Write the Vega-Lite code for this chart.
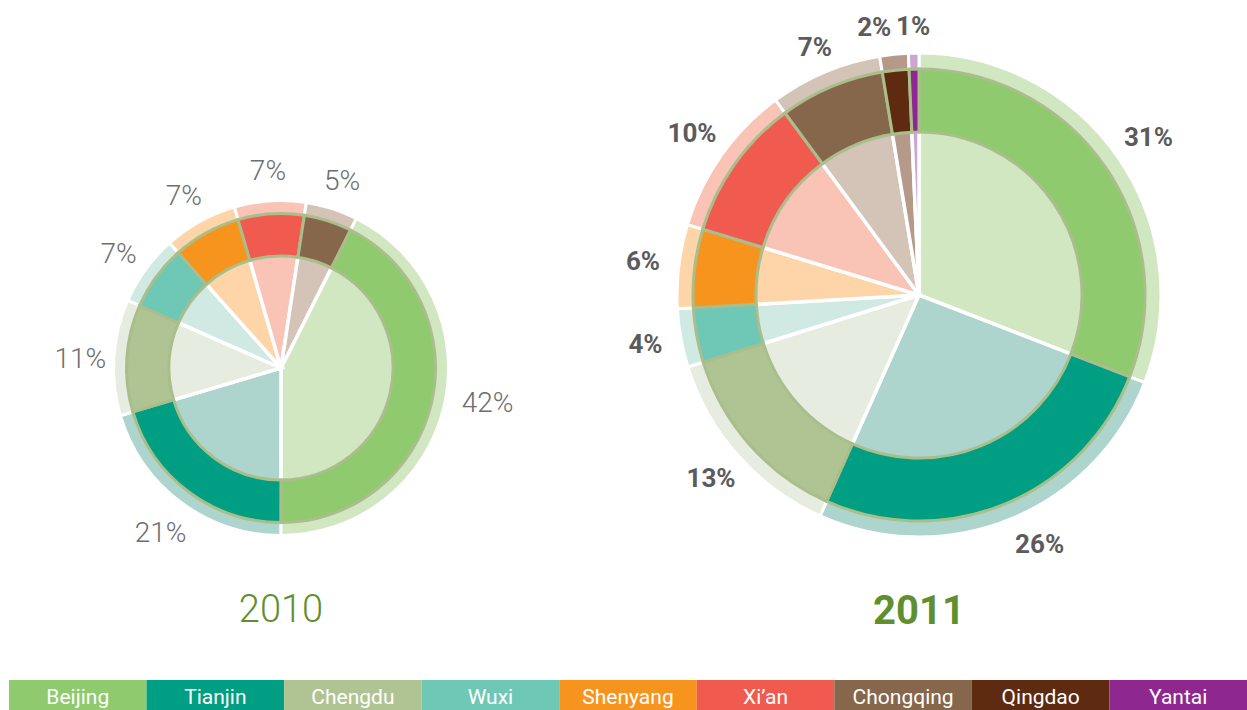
{
  "$schema": "https://vega.github.io/schema/vega-lite/v6.json",
  "padding": 0,
  "background": "white",
  "config": {"view": {"stroke": null}, "concat": {"spacing": 0}},
  "datasets": {
    "y2010": [
      {"i": 1, "city": "Beijing", "share": 42.6, "label": "42%"},
      {"i": 2, "city": "Tianjin", "share": 20.4, "label": "21%"},
      {"i": 3, "city": "Chengdu", "share": 11.2, "label": "11%"},
      {"i": 4, "city": "Wuxi", "share": 6.8, "label": "7%"},
      {"i": 5, "city": "Shenyang", "share": 7.1, "label": "7%"},
      {"i": 6, "city": "Xi’an", "share": 6.9, "label": "7%"},
      {"i": 7, "city": "Chongqing", "share": 5.0, "label": "5%"}
    ],
    "y2011": [
      {"i": 1, "city": "Beijing", "share": 30.9, "label": "31%"},
      {"i": 2, "city": "Tianjin", "share": 25.8, "label": "26%"},
      {"i": 3, "city": "Chengdu", "share": 13.5, "label": "13%"},
      {"i": 4, "city": "Wuxi", "share": 3.9, "label": "4%"},
      {"i": 5, "city": "Shenyang", "share": 5.6, "label": "6%"},
      {"i": 6, "city": "Xi’an", "share": 10.2, "label": "10%"},
      {"i": 7, "city": "Chongqing", "share": 7.5, "label": "7%"},
      {"i": 8, "city": "Qingdao", "share": 1.9, "label": "2%"},
      {"i": 9, "city": "Yantai", "share": 0.7, "label": "1%"}
    ]
  },
  "spacing": 48,
  "vconcat": [
    {
      "spacing": 29,
      "hconcat": [
        {
          "spacing": 0,
          "vconcat": [
            {"width": 562, "height": 146, "data": {"values": []}, "mark": {"type": "text"}, "encoding": {}},
            {
              "width": 562,
              "height": 444,
              "data": {"name": "y2010"},
              "title": {"text": "2010", "orient": "bottom", "offset": 2, "fontSize": 38, "font": "Roboto", "fontWeight": 300, "color": "#5f8f2e", "anchor": "middle"},
              "encoding": {
                "theta": {"field": "share", "type": "quantitative", "stack": true, "scale": {"domain": [0, 100], "range": [0.466, 6.7492]}},
                "order": {"field": "i", "type": "quantitative"}
              },
              "layer": [
                {
                  "mark": {"type": "arc", "innerRadius": 153, "outerRadius": 167.5, "stroke": "white", "strokeWidth": 3},
                  "encoding": {"color": {"field": "city", "type": "nominal", "legend": null,
                    "scale": {"domain": ["Beijing", "Tianjin", "Chengdu", "Wuxi", "Shenyang", "Xi’an", "Chongqing", "Qingdao", "Yantai"],
                              "range": ["#d1e7c2", "#aed5cd", "#e6ecdf", "#d0e9e3", "#fdd5a8", "#f9c3b5", "#d4c4b8", "#b69a89", "#c9a7d0"]}}}
                },
                {
                  "mark": {"type": "arc", "outerRadius": 113, "stroke": "white", "strokeWidth": 3.5},
                  "encoding": {"color": {"field": "city", "type": "nominal", "legend": null,
                    "scale": {"domain": ["Beijing", "Tianjin", "Chengdu", "Wuxi", "Shenyang", "Xi’an", "Chongqing", "Qingdao", "Yantai"],
                              "range": ["#d1e7c2", "#aed5cd", "#e6ecdf", "#d0e9e3", "#fdd5a8", "#f9c3b5", "#d4c4b8", "#b69a89", "#c9a7d0"]}}}
                },
                {
                  "mark": {"type": "arc", "innerRadius": 112, "outerRadius": 154.5, "stroke": "#a9be8b", "strokeWidth": 3},
                  "encoding": {"color": {"field": "city", "type": "nominal", "legend": null,
                    "scale": {"domain": ["Beijing", "Tianjin", "Chengdu", "Wuxi", "Shenyang", "Xi’an", "Chongqing", "Qingdao", "Yantai"],
                              "range": ["#8fca6e", "#009e82", "#b0c493", "#6fc8b5", "#f7941e", "#f15a4f", "#86674b", "#5e2a10", "#8e278f"]}}}
                },
                {
                  "mark": {"type": "text", "radius": 201, "dy": 5, "font": "Roboto", "fontWeight": 300, "color": "#6d6e70", "baseline": "middle", "align": "center"},
                  "encoding": {
                    "text": {"field": "label", "type": "nominal", "condition": {"test": "datum.i == 1", "value": ""}},
                    "size": {"condition": {"test": "datum.i == 1", "value": 0}, "value": 28}
                  }
                },
                {
                  "mark": {"type": "text", "radius": 201, "dx": 11, "dy": -11, "font": "Roboto", "fontWeight": 300, "color": "#6d6e70", "baseline": "middle", "align": "center"},
                  "encoding": {
                    "text": {"field": "label", "type": "nominal", "condition": {"test": "datum.i != 1", "value": ""}},
                    "size": {"condition": {"test": "datum.i != 1", "value": 0}, "value": 28}
                  }
                }
              ],
              "resolve": {"scale": {"color": "independent"}}
            }
          ]
        },
        {
          "width": 656,
          "height": 590,
          "data": {"name": "y2011"},
          "title": {"text": "2011", "orient": "bottom", "offset": 2, "fontSize": 40, "font": "Roboto", "fontWeight": "bold", "color": "#5f8f2e", "anchor": "middle"},
          "encoding": {
            "theta": {"field": "share", "type": "quantitative", "stack": true, "scale": {"domain": [0, 100], "range": [0, 6.2832]}},
            "order": {"field": "i", "type": "quantitative"}
          },
          "layer": [
            {
              "mark": {"type": "arc", "innerRadius": 224, "outerRadius": 242, "stroke": "white", "strokeWidth": 3},
              "encoding": {"color": {"field": "city", "type": "nominal", "legend": null,
                "scale": {"domain": ["Beijing", "Tianjin", "Chengdu", "Wuxi", "Shenyang", "Xi’an", "Chongqing", "Qingdao", "Yantai"],
                          "range": ["#d1e7c2", "#aed5cd", "#e6ecdf", "#d0e9e3", "#fdd5a8", "#f9c3b5", "#d4c4b8", "#b69a89", "#c9a7d0"]}}}
            },
            {
              "mark": {"type": "arc", "outerRadius": 164, "stroke": "white", "strokeWidth": 3.5},
              "encoding": {"color": {"field": "city", "type": "nominal", "legend": null,
                "scale": {"domain": ["Beijing", "Tianjin", "Chengdu", "Wuxi", "Shenyang", "Xi’an", "Chongqing", "Qingdao", "Yantai"],
                          "range": ["#d1e7c2", "#aed5cd", "#e6ecdf", "#d0e9e3", "#fdd5a8", "#f9c3b5", "#d4c4b8", "#b69a89", "#c9a7d0"]}}}
            },
            {
              "mark": {"type": "arc", "innerRadius": 163, "outerRadius": 226, "stroke": "#a9be8b", "strokeWidth": 3},
              "encoding": {"color": {"field": "city", "type": "nominal", "legend": null,
                "scale": {"domain": ["Beijing", "Tianjin", "Chengdu", "Wuxi", "Shenyang", "Xi’an", "Chongqing", "Qingdao", "Yantai"],
                          "range": ["#8fca6e", "#009e82", "#b0c493", "#6fc8b5", "#f7941e", "#f15a4f", "#86674b", "#5e2a10", "#8e278f"]}}}
            },
            {
              "mark": {"type": "text", "radius": 278, "font": "Roboto", "fontWeight": "bold", "color": "#5b5b5d", "baseline": "middle", "align": "center"},
              "encoding": {
                "text": {"field": "label", "type": "nominal", "condition": {"test": "datum.i >= 7 || datum.i == 2", "value": ""}},
                "size": {"condition": {"test": "datum.i >= 7 || datum.i == 2", "value": 0}, "value": 26}
              }
            },
            {
              "mark": {"type": "text", "radius": 278, "dx": 15, "dy": -7, "font": "Roboto", "fontWeight": "bold", "color": "#5b5b5d", "baseline": "middle", "align": "center"},
              "encoding": {
                "text": {"field": "label", "type": "nominal", "condition": {"test": "datum.i != 2", "value": ""}},
                "size": {"condition": {"test": "datum.i != 2", "value": 0}, "value": 26}
              }
            },
            {
              "mark": {"type": "text", "radius": 268, "font": "Roboto", "fontWeight": "bold", "color": "#5b5b5d", "baseline": "middle", "align": "center"},
              "encoding": {
                "text": {"field": "label", "type": "nominal", "condition": {"test": "datum.i != 7 && datum.i != 9", "value": ""}},
                "size": {"condition": {"test": "datum.i != 7 && datum.i != 9", "value": 0}, "value": 26}
              }
            },
            {
              "mark": {"type": "text", "radius": 268, "dx": -17, "font": "Roboto", "fontWeight": "bold", "color": "#5b5b5d", "baseline": "middle", "align": "center"},
              "encoding": {
                "text": {"field": "label", "type": "nominal", "condition": {"test": "datum.i != 8", "value": ""}},
                "size": {"condition": {"test": "datum.i != 8", "value": 0}, "value": 26}
              }
            }
          ],
          "resolve": {"scale": {"color": "independent"}}
        }
      ]
    },
    {
      "width": 1247,
      "height": 30,
      "data": {"name": "y2011"},
      "encoding": {
        "x": {"field": "city", "type": "nominal", "sort": null, "axis": null,
              "scale": {"paddingInner": 0, "paddingOuter": 0.0327, "align": 1}}
      },
      "layer": [
        {
          "mark": {"type": "bar"},
          "encoding": {"color": {"field": "city", "type": "nominal", "legend": null,
            "scale": {"domain": ["Beijing", "Tianjin", "Chengdu", "Wuxi", "Shenyang", "Xi’an", "Chongqing", "Qingdao", "Yantai"],
                      "range": ["#8fca6e", "#009e82", "#b0c493", "#6fc8b5", "#f7941e", "#f15a4f", "#86674b", "#5e2a10", "#8e278f"]}}}
        },
        {
          "mark": {"type": "text", "color": "white", "font": "Roboto", "fontSize": 21, "baseline": "middle", "dy": 3},
          "encoding": {"text": {"field": "city", "type": "nominal"}}
        }
      ]
    }
  ]
}
